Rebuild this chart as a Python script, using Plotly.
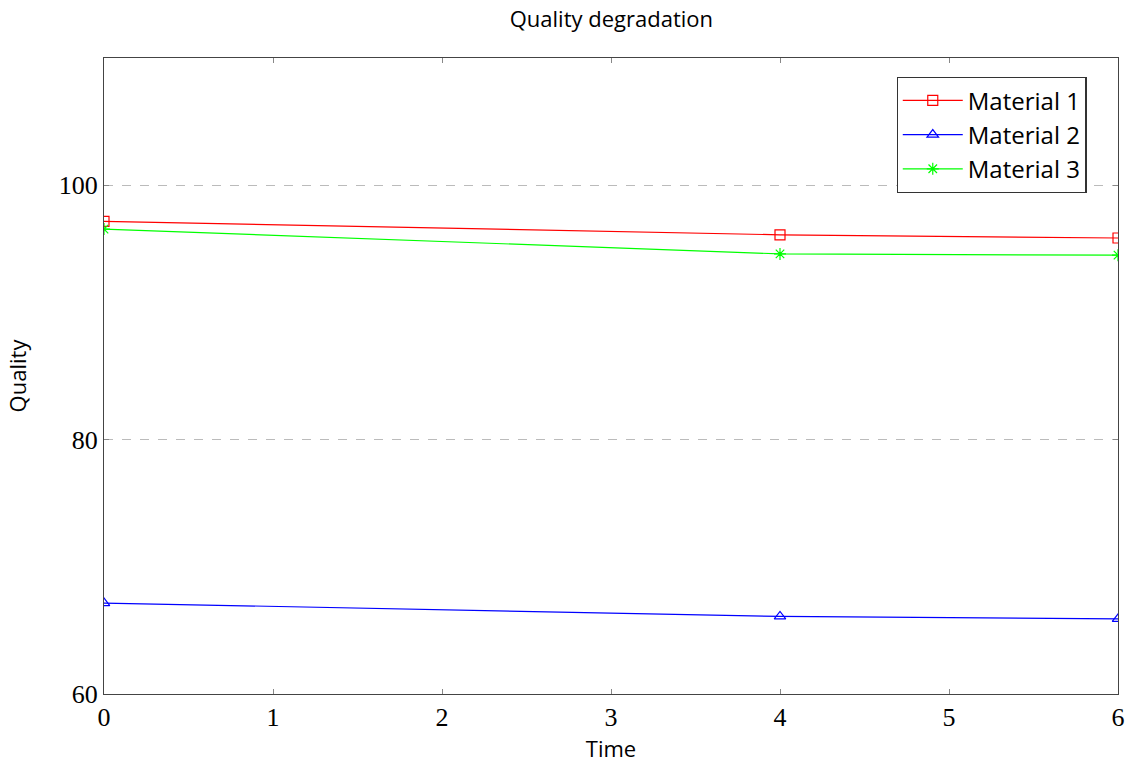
import plotly.graph_objects as go

time = [0, 4, 6]
material1 = [97.15, 96.1, 95.85]
material2 = [67.15, 66.1, 65.9]
material3 = [96.55, 94.6, 94.5]

series = [
    ("Material 1", material1, "red", "square-open"),
    ("Material 2", material2, "blue", "triangle-up-open"),
    ("Material 3", material3, "#00ff00", "asterisk-open"),
]

sans = "Open Sans"
serif = "Liberation Serif"

fig = go.Figure()
for name, vals, color, sym in series:
    fig.add_trace(go.Scatter(
        x=time, y=vals, name=name, mode="lines+markers",
        line=dict(color=color, width=1.2),
        marker=dict(symbol=sym, size=10, color=color, line=dict(color=color, width=1.2)),
    ))

axis_common = dict(
    showline=True, linecolor="#444", linewidth=1.2, mirror="ticks",
    ticks="inside", ticklen=5, tickcolor="#888", tickwidth=1,
    tickfont=dict(family=serif, size=26, color="black"),
    zeroline=False, automargin=False,
)

fig.update_layout(
    width=1128, height=767,
    margin=dict(l=104, r=10, t=58, b=73),
    paper_bgcolor="white", plot_bgcolor="white",
    title=dict(text="Quality degradation", x=0.542, xanchor="center", y=0.975, yanchor="middle",
               font=dict(family=sans, size=22, color="black")),
    xaxis=dict(range=[0, 6], tickvals=[0, 1, 2, 3, 4, 5, 6], showgrid=False,
               title=dict(text="Time", font=dict(family=sans, size=22, color="black"), standoff=10),
               **axis_common),
    yaxis=dict(range=[60, 110], tickvals=[60, 80, 100], showgrid=True,
               gridcolor="#bbbbbb", griddash="dash", gridwidth=1,
               title=dict(text="Quality", font=dict(family=sans, size=22, color="black"), standoff=26),
               **axis_common),
    legend=dict(x=0.969, y=0.97, xanchor="right", yanchor="top",
                bordercolor="#333", borderwidth=1.2, bgcolor="white",
                font=dict(family=sans, size=24, color="black"),
                tracegroupgap=0, itemwidth=60),
    showlegend=True,
)

fig.write_html("out.html")
